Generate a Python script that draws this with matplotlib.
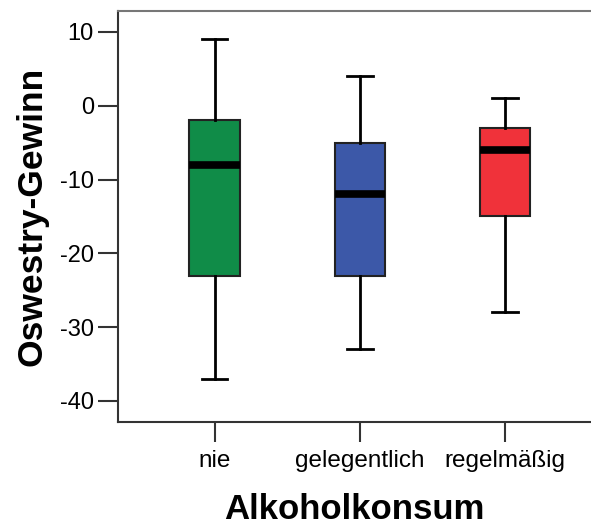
import matplotlib
matplotlib.use("Agg")
import matplotlib.pyplot as plt

# Boxplot-Kennwerte
kategorien = ["nie", "gelegentlich", "regelmäßig"]
whisker_oben = [9, 4, 1]
q3 = [-2, -5, -3]
median = [-8, -12, -6]
q1 = [-23, -23, -15]
whisker_unten = [-37, -33, -28]
farben = ["#108c48", "#3c58a8", "#f0323a"]

plt.rcParams['font.family'] = ['Liberation Sans', 'DejaVu Sans']
plt.rcParams['axes.unicode_minus'] = False

fig = plt.figure(figsize=(5.91, 5.25), dpi=100)
ax = fig.add_axes([0.1997, 0.196, 0.8003, 0.783])

stats = []
for i, k in enumerate(kategorien):
    stats.append(dict(label=k, med=median[i], q1=q1[i], q3=q3[i],
                      whislo=whisker_unten[i], whishi=whisker_oben[i], fliers=[]))

bp = ax.bxp(stats, positions=[1, 2, 3], widths=0.348, capwidths=0.176,
            patch_artist=True, showfliers=False,
            boxprops=dict(edgecolor="#222222", linewidth=1.5),
            whiskerprops=dict(color="black", linewidth=2),
            capprops=dict(color="black", linewidth=2),
            medianprops=dict(color="black", linewidth=5.5, solid_capstyle="butt"))
for patch, c in zip(bp["boxes"], farben):
    patch.set_facecolor(c)

ax.set_xlim(0.334, 3.593)
ax.set_ylim(-42.86, 12.83)
ax.set_yticks([10, 0, -10, -20, -30, -40])
ax.set_xticks([1, 2, 3])
ax.set_xticklabels(kategorien)

ax.spines["right"].set_visible(False)
ax.spines["top"].set_color("#777777")
for s in ["left", "bottom"]:
    ax.spines[s].set_color("#333333")
    ax.spines[s].set_linewidth(1.5)
ax.spines["top"].set_linewidth(1.5)

ax.tick_params(axis="y", length=14.4, width=1.5, pad=3, labelsize=17, color="#333333")
ax.tick_params(axis="x", length=14.4, width=1.5, pad=6, labelsize=17.5, color="#333333")

ax.set_xlabel("Alkoholkonsum", fontsize=25, fontweight="bold", labelpad=15)
ax.set_ylabel("Oswestry-Gewinn", fontsize=25.5, fontweight="bold", labelpad=8)

fig.savefig("out.png", dpi=100)
